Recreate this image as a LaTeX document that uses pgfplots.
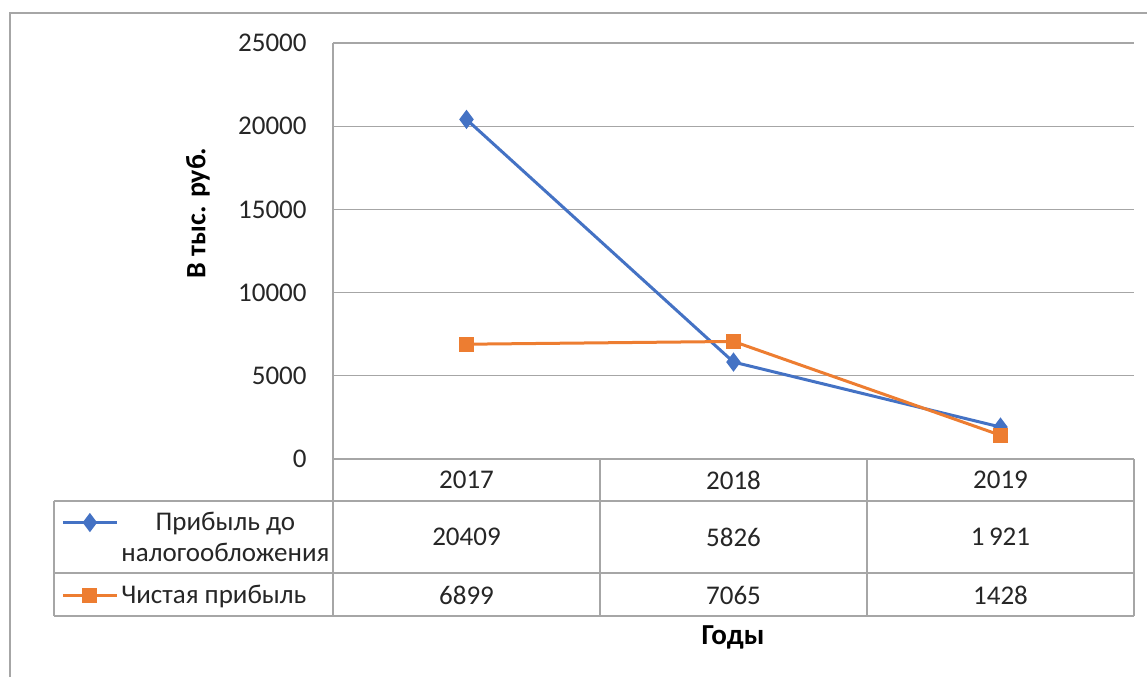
\documentclass[border=0pt]{standalone}
\usepackage{pgfplots}
\pgfplotsset{compat=1.18}
\usepackage{fontspec}
\setmainfont{Carlito}
\definecolor{bl}{HTML}{4472C4}
\definecolor{orx}{HTML}{ED7D31}
\definecolor{gridc}{HTML}{A6A6A6}
\definecolor{txt}{HTML}{262626}
\pgfplotsset{
  legimgA/.style={legend image code/.code={\draw[mark repeat=2,mark phase=2,##1] plot coordinates {(0pt,3.5pt) (13.5pt,3.5pt) (27pt,3.5pt)};}},
  legimgB/.style={legend image code/.code={\draw[mark repeat=2,mark phase=2,##1] plot coordinates {(0pt,0pt) (13.5pt,0pt) (27pt,0pt)};}},
}
\begin{document}
\fontsize{13.5}{15.5}\selectfont
\begin{tikzpicture}
\useasboundingbox (0,0) rectangle (573.5pt,-338.5pt);
\begin{axis}[
  at={(166.5pt,-229.5pt)}, anchor=south west,
  scale only axis, width=400.5pt, height=208pt,
  xmin=-0.5, xmax=2.5, ymin=0, ymax=25000,
  axis x line=none, axis y line*=left,
  axis line style={draw=none},
  xtick=\empty,
  ytick={0,5000,10000,15000,20000,25000},
  ymajorgrids, grid style={gridc, line width=0.6pt},
  major tick length=0pt,
  yticklabel style={inner sep=0pt, xshift=-13pt, anchor=east, font=\fontsize{13.5}{15.5}\selectfont, text=txt},
  /pgf/number format/assume math mode=true,
  /pgf/number format/1000 sep={},
  scaled y ticks=false,
  legend cell align=left,
  legend style={at={(-0.3396,-0.1178)}, anchor=north west, draw=none, fill=none,
    inner sep=0pt, row sep=17pt, column sep=1.5pt,
    nodes={inner sep=0pt}, font=\fontsize{13.5}{15.5}\selectfont, text=txt},
]
\addplot[color=bl, line width=1.5pt, mark=diamond*, mark size=3.6pt, mark options={solid}, legimgA] coordinates {(0,20409) (1,5826) (2,1921)};
\addlegendentry{\begin{tabular}{@{}c@{}}Прибыль до\\налогообложения\end{tabular}}
\addplot[color=orx, line width=1.5pt, mark=square*, mark size=3pt, mark options={solid}, legimgB] coordinates {(0,6899) (1,7065) (2,1428)};
\addlegendentry{Чистая прибыль}
\end{axis}
\begin{scope}[x=0.5pt,y=-0.5pt]
\draw[gridc, line width=0.6pt] (10,677) -- (10,13) -- (1147,13);
\draw[gridc, line width=0.6pt] (333,43) -- (333,616);
\draw[gridc, line width=0.6pt] (333,459) -- (1134,459);
\draw[gridc, line width=0.6pt] (54,501) -- (1134,501);
\draw[gridc, line width=0.6pt] (54,573) -- (1134,573);
\draw[gridc, line width=0.6pt] (54,616) -- (1134,616);
\draw[gridc, line width=0.6pt] (54,501) -- (54,616);
\draw[gridc, line width=0.6pt] (600,459) -- (600,616);
\draw[gridc, line width=0.6pt] (867,459) -- (867,616);
\draw[gridc, line width=0.6pt] (1134,459) -- (1134,616);
\node[text=txt] at (466.5,480) {2017};
\node[text=txt] at (733.5,480) {2018};
\node[text=txt] at (1000.5,480) {2019};
\node[text=txt] at (466.5,537) {20409};
\node[text=txt] at (733.5,537) {5826};
\node[text=txt] at (1000.5,537) {1\,921};
\node[text=txt] at (466.5,595) {6899};
\node[text=txt] at (733.5,595) {7065};
\node[text=txt] at (1000.5,595) {1428};
\node[text=black, rotate=90, font=\fontsize{14}{16}\bfseries] at (198,213) {В тыс. руб.};
\node[text=black, font=\fontsize{14.5}{16}\bfseries] at (733,637) {Годы};
\end{scope}
\end{tikzpicture}
\end{document}
